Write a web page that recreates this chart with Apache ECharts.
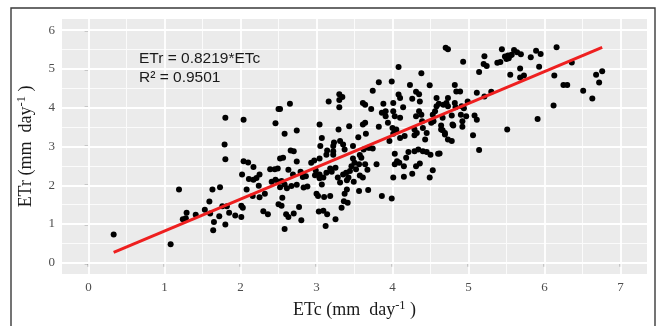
<!DOCTYPE html>
<html><head><meta charset="utf-8">
<script src="https://cdn.jsdelivr.net/npm/echarts@6/dist/echarts.min.js"></script>
<style>html,body{margin:0;padding:0;background:#fff}#c{width:657px;height:326px}</style>
</head><body><div id="c"></div>
<script>
const xTicks = [0, 1, 2, 3, 4, 5, 6, 7];
const yTicks = [0, 1, 2, 3, 4, 5, 6];
const xName = 'ETc (mm  day{sup|-1} )';
const yName = 'ETr (mm  day{sup|-1} )';
const eqText = 'ETr = 0.8219*ETc';
const r2Text = 'R² = 0.9501';
const fitLine = [[0.33, 0.27], [6.76, 5.56]];
const points = [
[0.33,0.73],[1.08,0.48],[1.19,1.89],[1.24,1.12],[1.28,1.15],[1.29,1.29],[1.41,1.24],
[1.53,1.37],[1.59,1.58],[1.60,1.27],[1.63,1.89],[1.65,1.05],[1.64,0.84],[1.72,1.20],[1.73,1.95],[1.76,1.46],[1.80,0.99],[1.79,3.05],[1.80,2.67],[1.82,1.46],[1.85,1.29],[1.93,1.22],[1.80,3.74],
[2.01,1.18],[2.01,1.47],[2.03,1.42],[2.02,2.28],[2.04,2.62],[2.10,2.59],[2.11,2.16],[2.08,1.89],[2.17,2.47],[2.17,2.14],[2.21,2.19],[2.25,2.28],[2.24,1.99],[2.16,1.72],[2.32,1.78],[2.30,1.33],[2.36,1.25],[2.39,2.41],[2.45,2.41],[2.49,2.43],[2.41,2.09],[2.46,2.14],[2.50,2.09],[2.50,1.51],[2.04,3.69],[2.46,3.60],[2.50,3.97],[2.25,1.69],
[2.52,2.69],[2.56,2.71],[2.66,2.90],[2.70,2.88],[2.63,2.40],[2.74,2.61],[2.79,2.35],[2.82,2.30],[2.82,2.21],[2.86,2.23],[2.52,1.95],[2.54,2.11],[2.67,1.98],[2.74,2.01],[2.83,1.94],[2.88,1.97],[2.55,1.68],[2.54,1.47],[2.60,1.25],[2.63,1.18],[2.70,1.27],[2.77,1.44],[2.80,1.10],[2.58,0.87],[2.97,2.64],[2.99,2.38],[2.98,2.26],[2.52,3.97],[2.65,4.10],[2.58,3.33],[2.74,3.41],[2.58,2.02],[2.69,2.28],[2.93,2.58],[2.61,1.92],
[3.04,3.57],[3.07,3.22],[3.16,4.16],[3.30,4.35],[3.34,4.28],[3.30,4.20],[3.30,4.01],[3.29,3.44],[3.43,3.52],[3.23,3.10],[3.31,3.14],
[3.05,3.01],[3.04,2.69],[3.04,2.18],[3.09,2.20],[3.07,2.02],[3.00,1.78],[3.02,1.72],[3.10,1.70],[3.18,1.72],[3.03,1.32],[3.09,1.34],[3.14,1.25],[3.12,0.95],[3.25,1.12],[3.14,2.90],[3.13,2.79],[3.22,2.88],[3.22,2.79],[3.20,2.35],[3.28,2.20],[3.25,2.45],[3.33,1.42],[3.37,1.78],[3.40,1.89],[3.36,1.59],[3.41,1.55],[3.40,2.13],[3.44,2.37],[3.46,2.49],[3.48,2.69],[3.50,2.58],[3.49,2.09],[3.22,3.01],[3.35,3.05],[3.37,2.92],[3.48,3.01],
[3.04,2.28],[3.13,2.32],[3.18,2.43],[3.31,2.07],[3.35,2.28],[3.39,2.32],[3.42,2.20],[3.52,2.41],[3.57,2.25],
[3.61,4.12],[3.64,4.08],[3.72,3.97],[3.61,3.57],[3.64,3.61],[3.55,3.24],[3.65,3.33],[3.74,4.44],[3.82,4.66],[3.82,3.51],[3.88,4.10],[3.86,3.87],[3.91,3.91],[3.91,3.78],[3.94,3.61],[3.96,3.14],
[3.57,2.78],[3.59,2.71],[3.56,2.54],[3.61,2.20],[3.64,2.54],[3.67,2.40],[3.56,1.85],[3.68,1.88],[3.70,2.97],[3.74,2.95],[3.79,2.54],[3.86,1.72],[3.99,1.66],[3.62,2.92],[3.68,2.97],[4.00,3.48],
[3.99,4.68],[4.01,4.12],[4.01,3.91],[4.03,3.78],[4.08,5.05],[4.08,4.34],[4.10,4.25],[4.14,4.01],[4.10,3.74],[4.05,3.44],[4.01,3.33],[4.10,3.22],[4.23,4.59],[4.31,4.41],[4.35,4.35],[4.26,4.23],[4.38,4.89],[4.36,4.16],[4.31,3.78],[4.35,3.91],[4.38,3.82],[4.39,3.65],[4.29,3.44],[4.32,3.35],[4.29,3.29],[4.40,3.48],[4.45,3.35],[4.43,3.18],[4.49,4.58],
[4.03,2.81],[4.03,2.54],[4.06,2.62],[4.09,2.58],[4.01,2.20],[4.15,2.49],[4.18,2.71],[4.15,2.22],[4.21,2.86],[4.26,2.30],[4.29,2.88],[4.34,2.92],[4.31,2.49],[4.36,2.56],[4.40,2.88],[4.45,2.86],[4.49,2.20],[4.05,3.39],[4.16,3.27],
[4.53,3.82],[4.56,3.91],[4.58,4.04],[4.51,3.61],[4.54,3.65],[4.61,4.10],[4.67,4.08],[4.71,4.12],[4.73,4.04],[4.70,5.55],[4.73,5.51],[4.58,4.25],[4.66,3.74],[4.64,3.44],[4.69,3.35],[4.82,4.59],[4.84,4.42],[4.82,4.12],[4.83,4.01],[4.79,3.57],[4.73,3.18],[4.78,3.14],
[4.93,5.19],[4.89,4.42],[4.73,4.25],[4.99,4.16],[4.91,4.04],[4.94,3.99],[4.78,3.80],[4.90,3.82],[4.97,3.78],[4.92,3.65],[4.80,3.54],[4.92,3.51],[4.64,3.54],[4.66,3.42],[4.69,3.31],[4.62,2.82],[4.53,2.39],[4.50,2.79],[4.60,2.81],
[5.21,5.33],[5.20,5.13],[5.24,5.08],[5.14,4.92],[5.44,5.51],[5.48,5.32],[5.52,5.35],[5.55,5.35],[5.50,5.26],[5.53,5.28],[5.38,5.16],[5.42,5.18],[5.06,3.29],[5.11,4.39],[5.21,4.29],[5.30,4.41],[5.08,3.80],[5.11,3.69],[5.14,2.91],[5.51,3.44],
[5.60,5.49],[5.64,5.43],[5.69,5.38],[5.57,5.37],[5.55,4.85],[5.68,5.01],[5.68,4.78],[5.73,4.83],[5.82,5.30],[5.89,5.47],[5.95,5.39],[5.93,5.06],[5.91,3.71],
[6.16,5.56],[6.36,5.17],[6.13,4.83],[6.25,4.59],[6.30,4.59],[6.51,4.44],[6.63,4.24],[6.68,4.85],[6.76,4.94],[6.72,4.65],[6.12,4.06]
];

const mid = arr => arr.slice(1).map((v, i) => (v + arr[i]) / 2);
const xMinor = mid(xTicks), yMinor = mid(yTicks);
const major = { color: '#ffffff', width: 1.8, type: 'solid' };
const minor = { color: '#fbfbfb', width: 1, type: 'solid' };
const gridLines = []
  .concat(xMinor.map(v => ({ xAxis: v, lineStyle: minor })))
  .concat(yMinor.map(v => ({ yAxis: v, lineStyle: minor })))
  .concat(xTicks.map(v => ({ xAxis: v, lineStyle: major })))
  .concat(yTicks.map(v => ({ yAxis: v, lineStyle: major })));

const serif = 'Liberation Serif';
const nameStyle = {
  fontFamily: serif, fontSize: 18, color: '#1a1a1a', lineHeight: 22,
  rich: { sup: { fontFamily: serif, fontSize: 12.5, lineHeight: 12, verticalAlign: 'top', color: '#1a1a1a' } }
};
const tickStyle = { color: '#333333', width: 1.4 };
const labelStyle = { color: '#4d4d4d', fontFamily: serif, fontSize: 13 };

const chart = echarts.init(document.getElementById('c'), null, { renderer: 'canvas' });
chart.setOption({
  animation: false,
  backgroundColor: '#ffffff',
  grid: { left: 62, right: 10, top: 19, bottom: 51, show: true, backgroundColor: '#EBEBEB', borderWidth: 0 },
  xAxis: {
    type: 'value', min: -0.35, max: 7.35,
    axisLine: { show: false }, splitLine: { show: false },
    axisTick: { show: true, customValues: xTicks, length: 4, lineStyle: tickStyle },
    axisLabel: Object.assign({ customValues: xTicks, margin: 7 }, labelStyle),
    name: xName, nameLocation: 'middle', nameGap: 25, nameTextStyle: nameStyle
  },
  yAxis: {
    type: 'value', min: -0.29, max: 6.29,
    axisLine: { show: false }, splitLine: { show: false },
    axisTick: { show: true, customValues: yTicks, length: 4, lineStyle: tickStyle },
    axisLabel: Object.assign({ customValues: yTicks, margin: 7 }, labelStyle),
    name: yName, nameLocation: 'middle', nameGap: 18, nameRotate: 90, nameTextStyle: nameStyle
  },
  graphic: [
    { type: 'rect', shape: { x: 11, y: 8, width: 644, height: 340 }, style: { fill: 'none', stroke: '#3a3a3a', lineWidth: 1.4 }, z: 10, silent: true },
    { type: 'text', left: 139, top: 51, style: { text: eqText, fontFamily: 'Liberation Sans', fontSize: 15.5, fill: '#1a1a1a' }, z: 10 },
    { type: 'text', left: 139, top: 70, style: { text: r2Text, fontFamily: 'Liberation Sans', fontSize: 15.5, fill: '#1a1a1a' }, z: 10 }
  ],
  series: [
    { type: 'scatter', data: [], z: 1, silent: true,
      markLine: { z: 1, silent: true, symbol: ['none', 'none'], label: { show: false }, emphasis: { disabled: true }, data: gridLines } },
    { type: 'scatter', data: points, symbolSize: 6, itemStyle: { color: '#000000', opacity: 1 }, z: 3, silent: true },
    { type: 'line', data: fitLine, showSymbol: false, symbol: 'none', lineStyle: { color: '#EE1F1F', width: 3 }, z: 4, silent: true }
  ]
});
</script></body></html>
